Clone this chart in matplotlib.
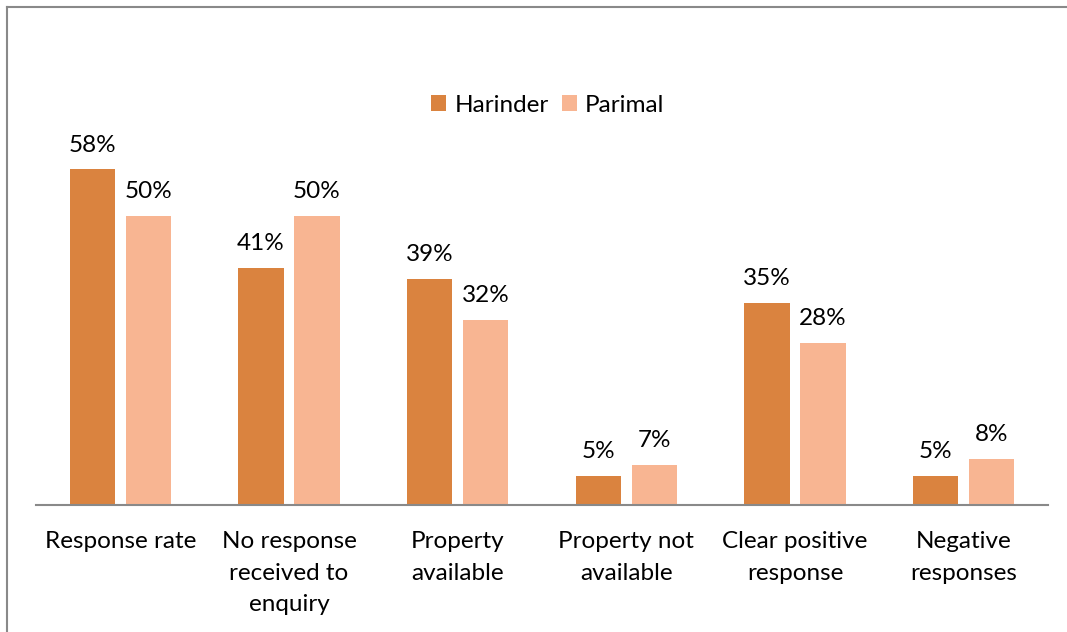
import numpy as np
import matplotlib.pyplot as plt
from matplotlib.lines import Line2D

categories = ["Response rate", "No response\nreceived to\nenquiry", "Property\navailable",
              "Property not\navailable", "Clear positive\nresponse", "Negative\nresponses"]
harinder = [58, 41, 39, 5, 35, 5]
parimal = [50, 50, 32, 7, 28, 8]
series_names = ["Harinder", "Parimal"]
colors = ["#DA833F", "#F8B592"]

plt.rcParams['font.family'] = ['Lato', 'DejaVu Sans']

W, H = 1067, 632
fig = plt.figure(figsize=(W / 100, H / 100), dpi=100)
ax = fig.add_axes([36 / W, 1 - 505 / H, (1048 - 36) / W, (505 - 100) / H])

x = np.arange(len(categories))
width = 0.267
off = 0.166
b1 = ax.bar(x - off, harinder, width, color=colors[0], label=series_names[0])
b2 = ax.bar(x + off, parimal, width, color=colors[1], label=series_names[1])

for bars, vals in [(b1, harinder), (b2, parimal)]:
    for b, v in zip(bars, vals):
        ax.annotate(f"{v}%", (b.get_x() + b.get_width() / 2, v), xytext=(0, 10),
                    textcoords="offset points", ha="center", va="bottom", fontsize=17.5)

ax.set_xlim(-0.5, len(categories) - 0.5)
ax.set_ylim(0, 70)
ax.set_xticks(x)
ax.set_xticklabels(categories, fontsize=17.5, linespacing=1.6)
ax.tick_params(axis='x', length=0, pad=19)
ax.set_yticks([])
for s in ["top", "right", "left"]:
    ax.spines[s].set_visible(False)
ax.spines["bottom"].set_color("#898989")
ax.spines["bottom"].set_linewidth(1.5)

ax.legend(loc="center", bbox_to_anchor=(548 / W, 1 - 105 / H), bbox_transform=fig.transFigure,
          ncol=2, frameon=False, fontsize=17.5, handlelength=0.6, handleheight=0.6,
          handletextpad=0.35, columnspacing=0.55)

# chart border (only top and left visible)
fig.add_artist(Line2D([7 / W, 1], [1 - 7 / H, 1 - 7 / H], transform=fig.transFigure,
                      color="#898989", lw=1.5))
fig.add_artist(Line2D([7 / W, 7 / W], [0, 1 - 7 / H], transform=fig.transFigure,
                      color="#898989", lw=1.5))

fig.savefig("out.png", dpi=100)
